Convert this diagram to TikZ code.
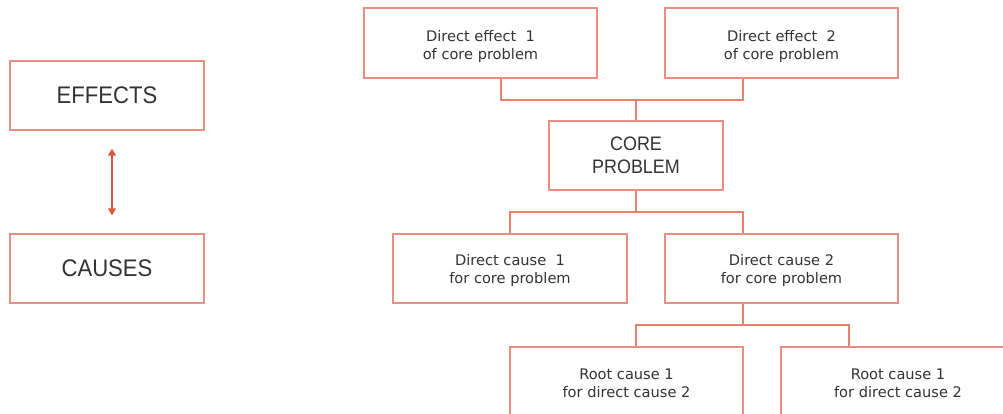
\documentclass[tikz,border=0pt]{standalone}
\usepackage{fontspec}
\setmainfont{DejaVu Sans}
\newfontfamily\capsfont[FakeStretch=0.92]{Liberation Sans}
\usetikzlibrary{arrows.meta}
\definecolor{boxline}{HTML}{E98E82}
\definecolor{connline}{HTML}{E8806E}
\definecolor{arrowred}{HTML}{D9573E}
\definecolor{txt}{HTML}{333333}
\tikzset{
  box/.style={draw=boxline, line width=1.5pt, fill=white, align=center, text=txt,
    inner sep=0pt, font=\fontsize{14.6}{18}\selectfont},
  bigbox/.style={box, font=\capsfont\fontsize{24}{28}\selectfont},
  corebox/.style={box, font=\capsfont\fontsize{19.5}{23}\selectfont},
  conn/.style={draw=connline, line width=1.5pt},
  arr/.style={draw=arrowred, line width=1.5pt, {Triangle[width=8pt,length=7pt]}-{Triangle[width=8pt,length=7pt]}}
}
\begin{document}
\begin{tikzpicture}[x=1pt,y=-1pt]
\clip (0,0) rectangle (1003,414);
\fill[white] (0,0) rectangle (1003,414);
% left legend
\node[bigbox, minimum width=194pt, minimum height=69pt] (effects) at (107,95.5) {EFFECTS};
\node[bigbox, minimum width=194pt, minimum height=69pt] (causes) at (107,268.5) {CAUSES};
\draw[arr, shorten <=18pt, shorten >=18pt] ([xshift=5pt]effects.south) -- ([xshift=5pt]causes.north);
% tree
\node[box, minimum width=233pt, minimum height=70pt, text height=36.9pt] (de1) at (480.5,43) {Direct effect\ \ 1\\of core problem};
\node[box, minimum width=233pt, minimum height=70pt, text height=36.9pt] (de2) at (781.5,43) {Direct effect\ \ 2\\of core problem};
\node[corebox, minimum width=174pt, minimum height=69pt] (core) at (636,155.5) {CORE\\PROBLEM};
\node[box, minimum width=234pt, minimum height=69pt, text height=32.5pt] (dc1) at (510,268.5) {Direct cause\ \ 1\\for core problem};
\node[box, minimum width=233pt, minimum height=69pt, text height=32.5pt] (dc2) at (781.5,268.5) {Direct cause 2\\for core problem};
\node[box, minimum width=233pt, minimum height=70pt, text height=31.5pt] (rc1) at (626.5,382) {Root cause 1\\for direct cause 2};
\node[box, minimum width=234pt, minimum height=70pt, text height=31.5pt] (rc2) at (898,382) {Root cause 1\\for direct cause 2};
% connectors
\coordinate (j1) at (636,100);
\coordinate (j2) at (636,212);
\coordinate (j3) at (743,325);
\draw[conn] ([xshift=20.5pt]de1.south) |- (j1) -| ([xshift=-38.5pt]de2.south);
\draw[conn] (j1) -- (core.north);
\draw[conn] (core.south) -- (j2);
\draw[conn] (dc1.north) |- (j2) -| ([xshift=-38.5pt]dc2.north);
\draw[conn] ([xshift=-38.5pt]dc2.south) -- (j3);
\draw[conn] ([xshift=9.5pt]rc1.north) |- (j3) -| ([xshift=-49pt]rc2.north);
\end{tikzpicture}
\end{document}
